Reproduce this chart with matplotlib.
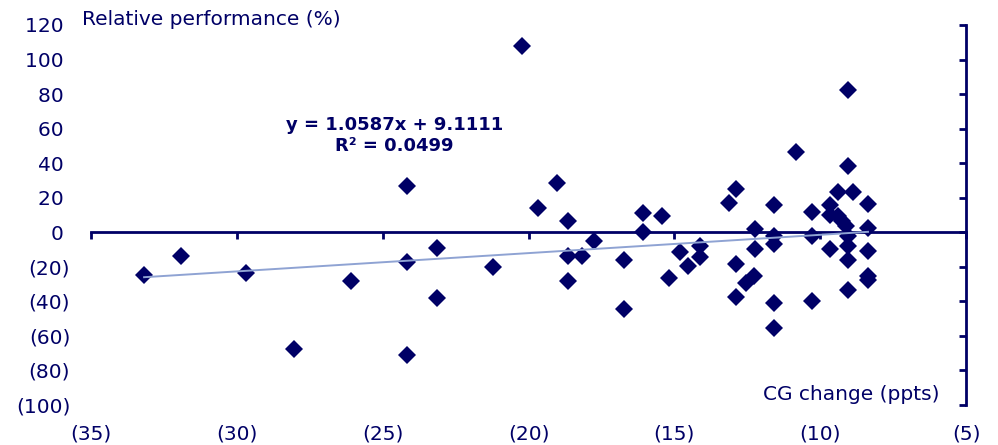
import matplotlib
matplotlib.use("Agg")
import matplotlib.pyplot as plt
import numpy as np

# ---- data ----
cg_change = [-33.18, -31.9, -29.7, -28.04, -26.1, -24.18, -24.18, -24.18, -23.15, -23.15,
             -21.23, -20.22, -19.69, -19.03, -18.64, -18.64, -18.64, -18.15, -17.76, -16.72,
             -16.72, -16.09, -16.09, -15.44, -15.17, -14.81, -14.52, -14.12, -14.12, -13.13,
             -12.87, -12.87, -12.87, -12.55, -12.27, -12.22, -12.22, -11.6, -11.6, -11.6,
             -11.6, -11.6, -10.83, -10.28, -10.28, -10.28, -9.67, -9.67, -9.67, -9.4,
             -9.4, -9.25, -9.1, -9.05, -9.05, -9.05, -9.05, -9.05, -9.05, -8.88,
             -8.36, -8.36, -8.36, -8.36, -8.36]
rel_perf = [-24.5, -13.7, -23.6, -67.3, -28.0, 26.8, -17.0, -71.0, -8.9, -38.2,
            -19.9, 107.8, 14.3, 28.4, 6.7, -13.7, -28.0, -13.7, -4.9, -16.0,
            -44.4, 11.0, 0.3, 9.4, -26.6, -11.2, -19.5, -7.9, -14.5, 17.0,
            25.0, -18.4, -37.5, -29.4, -25.3, 1.9, -9.7, 15.8, -2.2, -6.8,
            -41.0, -55.4, 46.5, 11.7, -2.2, -39.8, -9.7, 10.0, 15.8, 23.3,
            9.5, 6.5, 3.5, -2.2, 82.2, 38.4, -8.0, -16.0, -33.4, 23.3,
            16.4, 2.3, -10.8, -25.3, -27.6]

trend_slope = 1.0587
trend_intercept = 9.1111
trend_label = "y = 1.0587x + 9.1111\nR² = 0.0499"

x_ticks = [-35, -30, -25, -20, -15, -10, -5]
x_tick_labels = ["(35)", "(30)", "(25)", "(20)", "(15)", "(10)", "(5)"]
y_ticks = [-100, -80, -60, -40, -20, 0, 20, 40, 60, 80, 100, 120]
y_tick_labels = ["(100)", "(80)", "(60)", "(40)", "(20)", "0 ", "20 ", "40 ", "60 ", "80 ", "100 ", "120 "]

y_title = "Relative performance (%)"
x_title = "CG change (ppts)"

# ---- style ----
navy = "#000066"
trend_color = "#8fa3d3"
plt.rcParams['font.family'] = ['DejaVu Sans']
fs = 14.5

fig = plt.figure(figsize=(9.98, 4.45), dpi=100)
ax = fig.add_axes([91/998, 40/445, 875/998, 380/445])

ax.set_xlim(-35, -5)
ax.set_ylim(-100, 120)

# trend line
xs = np.array([min(cg_change), max(cg_change)])
ax.plot(xs, trend_slope * xs + trend_intercept, color=trend_color, lw=1.4, zorder=3)

ax.plot(cg_change, rel_perf, linestyle='none', marker='D', ms=9,
        color=navy, markeredgewidth=0, zorder=2)

# spines
for s in ['top', 'left']:
    ax.spines[s].set_visible(False)
ax.spines['bottom'].set_position(('data', 0))
ax.spines['bottom'].set_color(navy)
ax.spines['bottom'].set_linewidth(2)
ax.spines['bottom'].set_zorder(1)
ax.spines['right'].set_color(navy)
ax.spines['right'].set_linewidth(2)

ax.set_xticks(x_ticks)
ax.set_xticklabels(x_tick_labels)
ax.tick_params(axis='x', direction='out', length=5, width=2, color=navy,
               labelcolor=navy, labelsize=fs, pad=133.5)

ax.set_yticks(y_ticks)
ax.set_yticklabels(y_tick_labels)
ax.tick_params(axis='y', left=False, right=True, labelleft=True, labelright=False,
               direction='in', length=5, width=2, color=navy, labelcolor=navy,
               labelsize=fs, pad=15)

ax.text(-35.3, 123, y_title, color=navy, fontsize=fs, ha='left', va='center',
        clip_on=False)
ax.text(-5.9, -94, x_title, color=navy, fontsize=fs, ha='right', va='center')

ax.text(-24.6, 56, trend_label, color=navy, fontsize=13, fontweight='bold',
        ha='center', va='center', linespacing=1.15)

fig.savefig("out.png", dpi=100)
